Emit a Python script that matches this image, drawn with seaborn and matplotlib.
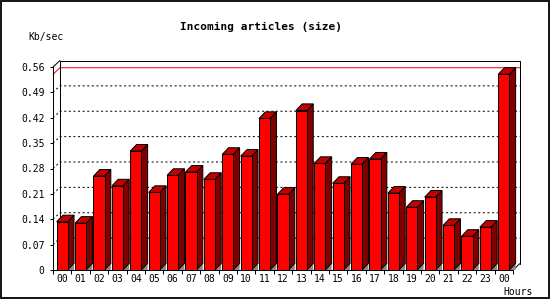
import numpy as np
import pandas as pd
import matplotlib
matplotlib.use("Agg")
import matplotlib.pyplot as plt
from matplotlib.patches import Polygon, Rectangle
import seaborn as sns

# ---- data ----
hours = ["00", "01", "02", "03", "04", "05", "06", "07", "08", "09", "10", "11",
         "12", "13", "14", "15", "16", "17", "18", "19", "20", "21", "22", "23", "00"]
values = [0.133, 0.129, 0.259, 0.232, 0.328, 0.214, 0.261, 0.270, 0.250, 0.319,
          0.314, 0.418, 0.209, 0.440, 0.294, 0.239, 0.292, 0.306, 0.212, 0.173,
          0.201, 0.123, 0.093, 0.118, 0.540]
yticks = [0, 0.07, 0.14, 0.21, 0.28, 0.35, 0.42, 0.49, 0.56]
ytick_labels = ["0", "0.07", "0.14", "0.21", "0.28", "0.35", "0.42", "0.49", "0.56"]
title = "Incoming articles (size)"
ylabel = "Kb/sec"
xlabel = "Hours"

sns.set_style("white")
plt.rcParams['font.family'] = ['DejaVu Sans Mono', 'DejaVu Sans']

W, H = 550, 300
fig = plt.figure(figsize=(5.5, 3), dpi=100)
fig.patch.set_facecolor("white")
ax = fig.add_axes([53 / W, 1 - 270 / H, 460 / W, 203 / H])
ax.set_facecolor("none")

df = pd.DataFrame({"slot": np.arange(len(values)), "value": values})
sns.barplot(data=df, x="slot", y="value", color="#ff0000", saturation=1,
            width=0.6, edgecolor="black", linewidth=0.72, ax=ax, zorder=3)
n = len(values)
ax.set_xlim(-0.5, n - 0.5)
ax.set_ylim(yticks[0], yticks[-1])
ax.set_xlabel("")
ax.set_ylabel("")

# pixel -> data offsets
inv = ax.transData.inverted()
p0 = ax.transData.transform((0, 0))
bdx, bdy = inv.transform(p0 + np.array([6.3, 6.6])) - inv.transform(p0)   # bar depth
pdx, pdy = inv.transform(p0 + np.array([7.0, 6.5])) - inv.transform(p0)   # plane depth

x0, x1 = -0.5, n - 0.5
ytop = yticks[-1]
lw = 0.72

# grid lines on the back wall (dotted)
for v in yticks[1:-1]:
    ax.plot([x0, x0 + pdx, x1 + pdx], [v, v + pdy, v + pdy], color="black",
            lw=lw, linestyle=(0, (2, 2.6)), zorder=1, clip_on=False)

# maximum line (red)
vmax = max(values)
ax.plot([x0, x0 + pdx, x1 + pdx], [vmax, vmax + pdy, vmax + pdy], color="#ee0000",
        lw=lw, zorder=1.2, clip_on=False)

# back frame
frame_kw = dict(color="black", lw=lw, zorder=1.5, clip_on=False)
ax.plot([x0 + pdx, x0 + pdx, x1 + pdx, x1 + pdx],
        [pdy, ytop + pdy, ytop + pdy, pdy], **frame_kw)
ax.plot([x0, x0 + pdx], [ytop, ytop + pdy], **frame_kw)
ax.plot([x1, x1 + pdx], [0, pdy], **frame_kw)

# 3D faces of bars
for p in ax.patches:
    L = p.get_x()
    R = L + p.get_width()
    h = p.get_height()
    ax.add_patch(Polygon([(R, 0), (R + bdx, bdy), (R + bdx, 0)], closed=True,
                         facecolor="#8c8c8c", edgecolor="none", zorder=2, clip_on=False))
    ax.add_patch(Polygon([(R, 0), (R + bdx, bdy), (R + bdx, h + bdy), (R, h)], closed=True,
                         facecolor="#800000", edgecolor="black", lw=lw, zorder=2.5,
                         clip_on=False, joinstyle="miter"))
    ax.add_patch(Polygon([(L, h), (R, h), (R + bdx, h + bdy), (L + bdx, h + bdy)], closed=True,
                         facecolor="#c40000", edgecolor="black", lw=lw, zorder=2.5,
                         clip_on=False, joinstyle="miter"))

# spines
for s in ["top", "right"]:
    ax.spines[s].set_visible(False)
for s in ["left", "bottom"]:
    ax.spines[s].set_color("black")
    ax.spines[s].set_linewidth(lw)
    ax.spines[s].set_zorder(4)

ax.set_yticks(yticks)
ax.set_yticklabels(ytick_labels)
ax.set_xticks(np.arange(n))
ax.set_xticklabels(hours)
ax.set_xticks(np.arange(n + 1) - 0.5, minor=True)
ax.tick_params(axis="y", which="major", direction="out", length=2.3, width=lw,
               color="black", pad=3.8, labelsize=7, labelcolor="black", left=True)
ax.tick_params(axis="x", which="major", length=0, pad=3.0, labelsize=7, labelcolor="black")
ax.tick_params(axis="x", which="minor", direction="out", length=2.9, width=lw,
               color="black", bottom=True)
ax.grid(False)

# texts
fig.text(261 / W, 1 - 27 / H, title, ha="center", va="center", fontsize=8,
         fontweight="bold", color="black")
fig.text(28 / W, 1 - 37 / H, ylabel, ha="left", va="center", fontsize=7, color="black")
fig.text(533 / W, 1 - 292 / H, xlabel, ha="right", va="center", fontsize=7, color="black")

# image border
fig.patches.append(Rectangle((0.5 / W, 1 - 298.2 / H), 548 / W, 297.7 / H,
                             transform=fig.transFigure, fill=False,
                             edgecolor="black", lw=1.3, zorder=10))

fig.savefig("out.png", dpi=100, facecolor="white")
